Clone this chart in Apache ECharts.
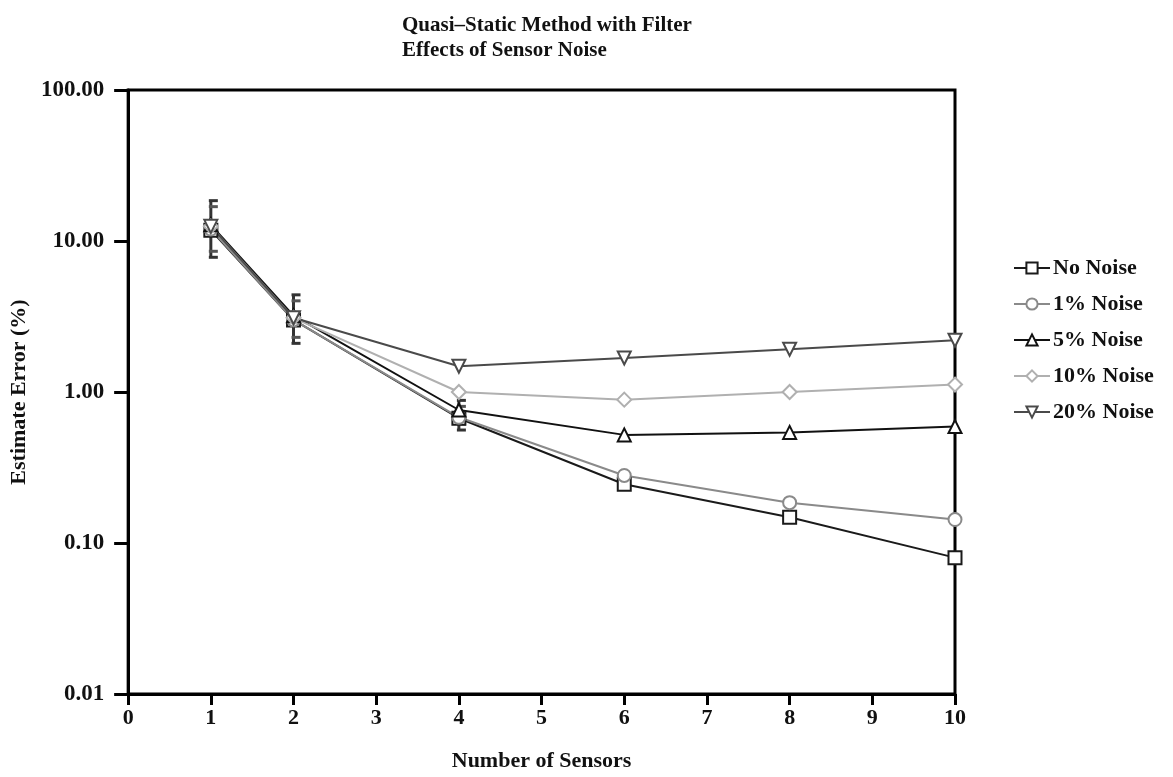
<!DOCTYPE html>
<html>
<head>
<meta charset="utf-8">
<script src="https://cdn.jsdelivr.net/npm/echarts@6/dist/echarts.min.js"></script>
<style>html,body{margin:0;padding:0;background:#fff;}#c{width:1173px;height:777px;}</style>
</head>
<body>
<div id="c"></div>
<script>
const xValues = [1, 2, 4, 6, 8, 10];
const noNoise = [11.8, 3.0, 0.67, 0.245, 0.148, 0.08];
const noise1 = [12.0, 3.0, 0.68, 0.28, 0.185, 0.143];
const noise5 = [12.8, 3.2, 0.76, 0.52, 0.54, 0.59];
const noise10 = [12.5, 3.1, 1.0, 0.89, 1.0, 1.12];
const noise20 = [12.5, 3.1, 1.48, 1.68, 1.92, 2.2];
const errX = [1, 2, 4];
const errLow = [7.8, 2.1, 0.56];
const errHigh = [18.5, 4.4, 0.88];
const yTickLabels = ['0.01', '0.10', '1.00', '10.00', '100.00'];

const FONT = '"Liberation Serif", "Times New Roman", serif';
const pair = arr => xValues.map((x, i) => [x, arr[i]]);

const seriesDefs = [
  {name: 'No Noise', data: noNoise, color: '#1a1a1a', symbol: 'rect', rot: 0},
  {name: '1% Noise', data: noise1, color: '#8a8a8a', symbol: 'circle', rot: 0},
  {name: '5% Noise', data: noise5, color: '#111111', symbol: 'triangle', rot: 0},
  {name: '10% Noise', data: noise10, color: '#b0b0b0', symbol: 'diamond', rot: 0},
  {name: '20% Noise', data: noise20, color: '#4a4a4a', symbol: 'triangle', rot: 180}
];

const series = seriesDefs.map(d => ({
  name: d.name,
  type: 'line',
  data: pair(d.data),
  symbol: d.symbol,
  symbolRotate: d.rot,
  symbolSize: d.symbol === 'diamond' ? 14 : 13,
  showAllSymbol: true,
  lineStyle: {color: d.color, width: 2},
  itemStyle: {color: '#ffffff', borderColor: d.color, borderWidth: 2},
  emphasis: {disabled: true},
  z: 3
}));

series.unshift({
  name: 'err',
  type: 'custom',
  data: errX.map((x, i) => [x, errLow[i], errHigh[i]]),
  renderItem: function (params, api) {
    const lo = api.coord([api.value(0), api.value(1)]);
    const hi = api.coord([api.value(0), api.value(2)]);
    const st = {stroke: '#333', lineWidth: 3};
    return {
      type: 'group',
      children: [
        {type: 'line', shape: {x1: lo[0], y1: lo[1], x2: hi[0], y2: hi[1]}, style: st},
        {type: 'line', shape: {x1: hi[0] - 2, y1: hi[1], x2: hi[0] + 7, y2: hi[1]}, style: st},
        {type: 'line', shape: {x1: hi[0] - 2, y1: hi[1] + 6, x2: hi[0] + 7, y2: hi[1] + 6}, style: {stroke: '#555', lineWidth: 3}},
        {type: 'line', shape: {x1: lo[0] - 2, y1: lo[1], x2: lo[0] + 7, y2: lo[1]}, style: st},
        {type: 'line', shape: {x1: lo[0] - 2, y1: lo[1] - 6, x2: lo[0] + 7, y2: lo[1] - 6}, style: {stroke: '#555', lineWidth: 3}}
      ]
    };
  },
  z: 2,
  silent: true
});

const chart = echarts.init(document.getElementById('c'));
chart.setOption({
  animation: false,
  backgroundColor: '#ffffff',
  title: {
    text: 'Quasi\u2013Static Method with Filter\nEffects of Sensor Noise',
    left: 397, top: 8,
    textStyle: {fontFamily: FONT, fontSize: 21, fontWeight: 'bold', color: '#111', lineHeight: 25}
  },
  legend: {
    orient: 'vertical',
    left: 1008, top: 252,
    itemWidth: 36, itemHeight: 14, itemGap: 14,
    data: seriesDefs.map(d => d.name),
    textStyle: {fontFamily: FONT, fontSize: 22, fontWeight: 'bold', color: '#111', padding: [0, 0, 0, -2]}
  },
  grid: {
    left: 127, right: 218, top: 90, bottom: 82,
    show: true, borderColor: '#000', borderWidth: 3, backgroundColor: 'transparent'
  },
  xAxis: {
    type: 'value', min: 0, max: 10, interval: 1,
    name: 'Number of Sensors', nameLocation: 'middle', nameGap: 56,
    nameTextStyle: {fontFamily: FONT, fontSize: 22, fontWeight: 'bold', color: '#111'},
    axisLine: {lineStyle: {color: '#000', width: 3}},
    axisTick: {length: 11, lineStyle: {color: '#000', width: 3}},
    axisLabel: {fontFamily: FONT, fontSize: 22, fontWeight: 'bold', color: '#111', margin: 13},
    splitLine: {show: false}
  },
  yAxis: {
    type: 'log', logBase: 10, min: 0.01, max: 100,
    name: 'Estimate Error (%)', nameLocation: 'middle', nameGap: 96,
    nameTextStyle: {fontFamily: FONT, fontSize: 22, fontWeight: 'bold', color: '#111'},
    axisLine: {lineStyle: {color: '#000', width: 3}},
    axisTick: {length: 14, lineStyle: {color: '#000', width: 3}},
    axisLabel: {
      fontFamily: FONT, fontSize: 23, fontWeight: 'bold', color: '#111', margin: 24,
      formatter: function (v) {
        const idx = Math.round(Math.log10(v)) + 2;
        return yTickLabels[idx] !== undefined ? yTickLabels[idx] : '';
      }
    },
    splitLine: {show: false},
    minorTick: {show: false}
  },
  series: series
});
</script>
</body>
</html>
